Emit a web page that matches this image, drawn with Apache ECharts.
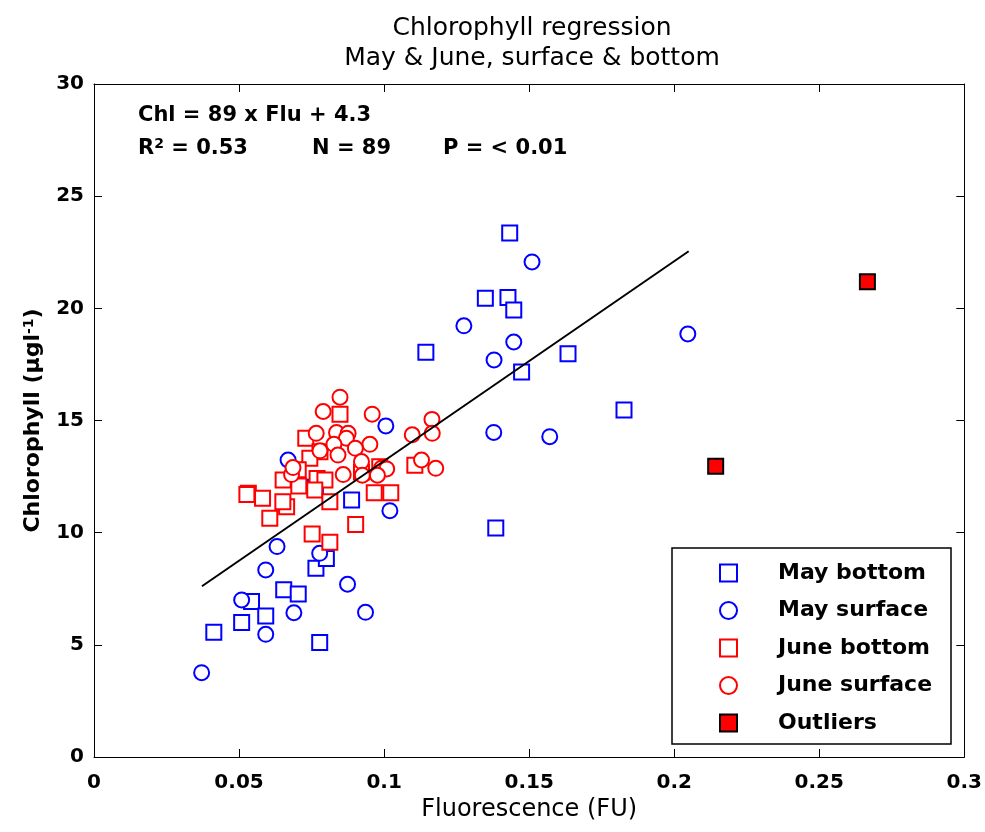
<!DOCTYPE html>
<html>
<head>
<meta charset="utf-8">
<script src="https://cdn.jsdelivr.net/npm/echarts@6/dist/echarts.min.js"></script>
<style>html,body{margin:0;padding:0;background:#fff}#c{width:985px;height:832px}</style>
</head>
<body>
<div id="c"></div>
<script>
// ---- data (Fluorescence FU, Chlorophyll µg/l) ----
const mayBottom = [[0.1433,23.36],[0.1349,20.45],[0.1427,20.48],[0.1447,19.93],[0.1144,18.04],[0.1634,17.97],[0.1474,17.16],[0.1827,15.47],[0.1385,10.21],[0.0888,11.46],[0.0763,12.03],[0.0765,8.41],[0.0801,8.85],[0.0654,7.45],[0.0704,7.27],[0.0543,6.93],[0.0592,6.29],[0.0509,5.99],[0.0413,5.56],[0.0778,5.10]];
const maySurface = [[0.1510,22.07],[0.1275,19.22],[0.1447,18.50],[0.1379,17.70],[0.2047,18.86],[0.1378,14.47],[0.1571,14.28],[0.1006,14.76],[0.0669,13.24],[0.1020,10.98],[0.0631,9.38],[0.0592,8.34],[0.0778,9.08],[0.0509,7.00],[0.0689,6.43],[0.0874,7.70],[0.0936,6.45],[0.0592,5.47],[0.0371,3.76]];
const juneBottom = [[0.0848,15.28],[0.0730,14.21],[0.0779,13.61],[0.0744,13.32],[0.0652,12.35],[0.0704,12.80],[0.0769,12.42],[0.0796,12.35],[0.0706,12.08],[0.0761,11.90],[0.0813,11.38],[0.0532,11.76],[0.0527,11.70],[0.0581,11.53],[0.0664,11.16],[0.0651,11.38],[0.0606,10.64],[0.0752,9.94],[0.0813,9.57],[0.0902,10.36],[0.0985,12.94],[0.0966,11.78],[0.1023,11.78],[0.1106,13.00],[0.0922,12.70]];
const juneSurface = [[0.0848,16.04],[0.0790,15.40],[0.0959,15.28],[0.1165,15.05],[0.1166,14.43],[0.1097,14.36],[0.0766,14.43],[0.0836,14.46],[0.0876,14.43],[0.0870,14.21],[0.0827,13.94],[0.0951,13.94],[0.0901,13.76],[0.0841,13.46],[0.0922,13.17],[0.0779,13.65],[0.1129,13.24],[0.1178,12.87],[0.0991,12.87],[0.1009,12.84],[0.0859,12.59],[0.0925,12.56],[0.0681,12.59],[0.0977,12.56],[0.0686,12.90]];
const outliers = [[0.2143,12.96],[0.2666,21.18]];
const regSlope = 89, regIntercept = 4.3;
const regRange = [0.0372, 0.205];
const regLine = regRange.map(x => [x, regSlope * x + regIntercept]);
const seriesNames = ['May bottom','May surface','June bottom','June surface','Outliers'];
const xTicks = {min:0, max:0.3, interval:0.05};
const yTicks = {min:0, max:30, interval:5};

const FONT = 'DejaVu Sans';
const chart = echarts.init(document.getElementById('c'), null, {renderer:'canvas'});

const axisCommon = {
  axisLine:{show:true, onZero:false, lineStyle:{color:'#000', width:1}},
  axisTick:{show:true, inside:true, length:8, lineStyle:{color:'#000'}},
  splitLine:{show:false}
};
const hollow = (color, symbol) => ({
  type:'scatter', symbol, symbolSize:15,
  itemStyle:{color:'#fff', borderColor:color, borderWidth:2, opacity:1},
  emphasis:{disabled:true}
});

chart.setOption({
  animation:false,
  backgroundColor:'#fff',
  title:{
    text:'Chlorophyll regression\nMay & June, surface & bottom',
    left:527, top:8, textAlign:'center',
    textStyle:{fontFamily:FONT, fontSize:25, fontWeight:'normal', color:'#000', lineHeight:30}
  },
  grid:{left:94, right:20, top:84, bottom:75},
  xAxis:[
    Object.assign({type:'value', position:'bottom', min:xTicks.min, max:xTicks.max, interval:xTicks.interval,
      name:'Fluorescence (FU)', nameLocation:'middle', nameGap:40,
      nameTextStyle:{fontFamily:FONT, fontSize:24, color:'#000'},
      axisLabel:{fontFamily:FONT, fontSize:20, fontWeight:'bold', color:'#000', margin:16}}, axisCommon),
    Object.assign({type:'value', position:'top', min:xTicks.min, max:xTicks.max, interval:xTicks.interval,
      axisLabel:{show:false}}, axisCommon)
  ],
  yAxis:[
    Object.assign({type:'value', position:'left', min:yTicks.min, max:yTicks.max, interval:yTicks.interval,
      name:'Chlorophyll (μgl{sup|-1})', nameLocation:'middle', nameGap:50, nameRotate:90,
      nameTextStyle:{fontFamily:FONT, fontSize:22, fontWeight:'bold', color:'#000',
        rich:{sup:{fontFamily:FONT, fontSize:14, fontWeight:'bold', color:'#000', verticalAlign:'top', padding:[0,0,8,0]}}},
      axisLabel:{fontFamily:FONT, fontSize:20, fontWeight:'bold', color:'#000', margin:10}}, axisCommon),
    Object.assign({type:'value', position:'right', min:yTicks.min, max:yTicks.max, interval:yTicks.interval,
      axisLabel:{show:false}}, axisCommon)
  ],
  legend:{
    data:seriesNames, orient:'vertical', left:714, top:557,
    itemWidth:17, itemHeight:17, itemGap:15.5,
    textStyle:{fontFamily:FONT, fontSize:22, fontWeight:'bold', color:'#000', padding:[0,0,0,36]},
    selectedMode:false, z:10
  },
  graphic:[
    {type:'rect', shape:{x:672, y:548, width:279, height:196}, style:{fill:'#fff', stroke:'#000', lineWidth:1.5}, z:5},
    {type:'text', x:138, y:116, style:{text:'Chl = 89 x Flu + 4.3', font:'bold 21px "DejaVu Sans"', fill:'#000', textVerticalAlign:'middle'}, z:6},
    {type:'text', x:138, y:149, style:{text:'R{sup|2} = 0.53', font:'bold 21px "DejaVu Sans"', fill:'#000', textVerticalAlign:'middle',
      rich:{sup:{font:'bold 14px "DejaVu Sans"', fill:'#000', verticalAlign:'top', padding:[0,0,10,0]}}}, z:6},
    {type:'text', x:312, y:149, style:{text:'N = 89', font:'bold 21px "DejaVu Sans"', fill:'#000', textVerticalAlign:'middle'}, z:6},
    {type:'text', x:443, y:149, style:{text:'P = < 0.01', font:'bold 21px "DejaVu Sans"', fill:'#000', textVerticalAlign:'middle'}, z:6}
  ],
  series:[
    Object.assign(hollow('#0000ff','rect'), {name:'May bottom', data:mayBottom}),
    Object.assign(hollow('#0000ff','circle'), {name:'May surface', data:maySurface}),
    Object.assign(hollow('#ff0000','rect'), {name:'June bottom', data:juneBottom}),
    Object.assign(hollow('#ff0000','circle'), {name:'June surface', data:juneSurface}),
    {name:'Outliers', type:'scatter', symbol:'rect', symbolSize:15, data:outliers,
      itemStyle:{color:'#ff0000', borderColor:'#000', borderWidth:2, opacity:1}, emphasis:{disabled:true}},
    {name:'Regression', type:'line', data:regLine, symbol:'none', lineStyle:{color:'#000', width:2}, z:4, emphasis:{disabled:true}}
  ]
});
</script>
</body>
</html>
